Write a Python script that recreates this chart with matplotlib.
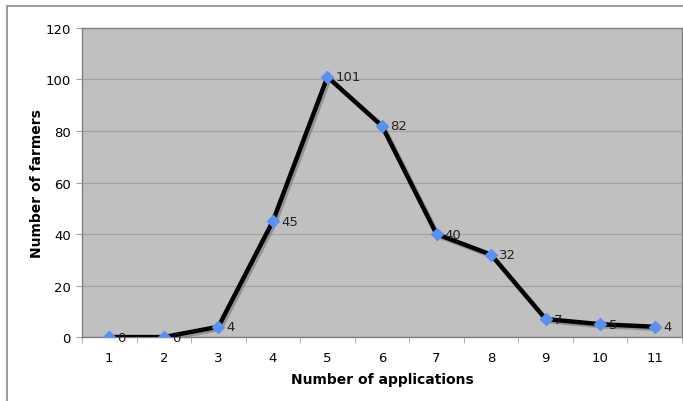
import matplotlib
matplotlib.use("Agg")
import matplotlib.pyplot as plt
import matplotlib.patheffects as pe
from matplotlib.patches import Rectangle

# data
applications = [1, 2, 3, 4, 5, 6, 7, 8, 9, 10, 11]
farmers = [0, 0, 4, 45, 101, 82, 40, 32, 7, 5, 4]
y_ticks = [0, 20, 40, 60, 80, 100, 120]

fig = plt.figure(figsize=(6.83, 4.02), dpi=100)
ax = fig.add_axes([0.120, 0.159, 0.8785, 0.769])

# outer chart border
fig.patches.append(Rectangle((0.010, -0.1), 1.2, 1.082, transform=fig.transFigure,
                             fill=False, edgecolor="#8a8a8a", linewidth=1.2))

ax.set_facecolor("#c0c0c0")
pos = list(range(len(applications)))
ax.plot(pos, farmers, color="black", linewidth=3.2, zorder=3,
        path_effects=[pe.SimpleLineShadow(offset=(1.5, -1.5), shadow_color="#808080", alpha=0.7),
                      pe.Normal()])
ax.plot(pos, farmers, linestyle="none", marker="D", markersize=6.5,
        markerfacecolor="#5b8ff0", markeredgecolor="#5b8ff0", zorder=4)

for i, v in enumerate(farmers):
    ax.annotate(str(v), (i, v), xytext=(6, 0), textcoords="offset points",
                ha="left", va="center", fontsize=9.5, color="#222222", zorder=5)

ax.set_xlim(-0.5, len(applications) - 0.5)
ax.set_ylim(0, 120)
ax.set_yticks(y_ticks)
ax.yaxis.grid(True, color="#a3a3a3", linewidth=0.9)
ax.set_axisbelow(True)

ax.set_xticks(pos)
ax.set_xticklabels([str(a) for a in applications])
ax.set_xticks([p - 0.5 for p in pos] + [len(pos) - 0.5], minor=True)
ax.tick_params(axis="x", which="major", length=0, pad=10, labelsize=9.5)
ax.tick_params(axis="x", which="minor", length=4, color="#a3a3a3")
ax.tick_params(axis="y", length=4, color="#a3a3a3", labelsize=9.5, pad=4)

for s in ax.spines.values():
    s.set_color("#808080")
    s.set_linewidth(1.0)

ax.set_xlabel("Number of applications", fontsize=10, fontweight="bold", labelpad=6)
ax.set_ylabel("Number of farmers", fontsize=10, fontweight="bold", labelpad=1)

fig.savefig("out.png", dpi=100)
